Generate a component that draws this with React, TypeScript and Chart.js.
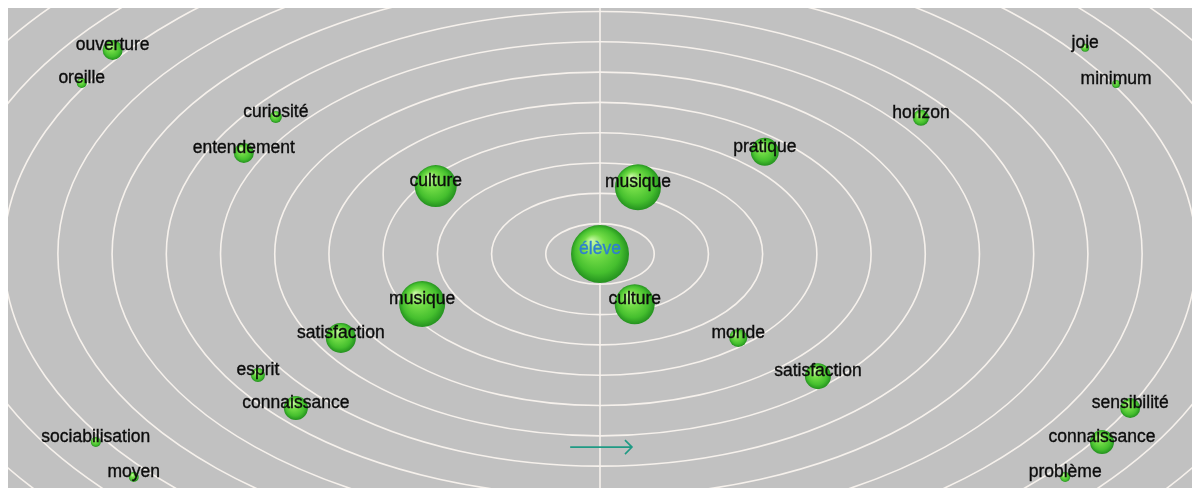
import React, { useEffect, useRef } from "react";
import { Chart, registerables } from "chart.js";

Chart.register(...registerables);

// Words (category labels) of the similarity map
const WORDS = [
  "élève", "musique", "culture", "culture", "musique", "satisfaction",
  "pratique", "monde", "satisfaction", "horizon", "entendement", "curiosité",
  "ouverture", "oreille", "esprit", "connaissance", "sociabilisation", "moyen",
  "joie", "minimum", "sensibilité", "connaissance", "problème",
];
// Horizontal position (ring units)
const X_VALUES = [
  0, 0.7, 0.64, -3.03, -3.28, -4.78,
  3.04, 2.55, 4.02, 5.92, -6.57, -5.98,
  -8.99, -9.56, -6.31, -5.61, -9.3, -8.6,
  8.95, 9.52, 9.78, 9.26, 8.58,
];
// Vertical position (ring units)
const Y_VALUES = [
  0, 2.2, -1.66, 2.24, -1.65, -2.77,
  3.37, -2.77, -4.03, 4.49, 3.33, 4.52,
  6.73, 5.64, -3.99, -5.08, -6.2, -7.36,
  6.8, 5.61, -5.08, -6.2, -7.36,
];
// Bubble size (radius)
const SIZES = [
  29, 23, 20, 21, 23, 15,
  14, 9, 13, 8, 10, 6,
  10, 5, 7, 12, 5, 5,
  4, 4, 10, 12, 5,
];
// Concentric rings (levels)
const RING_LEVELS = [1, 2, 3, 4, 5, 6, 7, 8, 9, 10, 11, 12, 13, 14];
// Axis extents
const X_RANGE = [-10.92, 10.92];
const Y_RANGE = [-7.72, 8.18];
// Direction arrow (from, to) in ring units
const ARROW_X = [-0.55, 0.59];
const ARROW_Y = [-6.37, -6.37];

const ringsPlugin = {
  id: "rings",
  beforeDatasetsDraw(chart: any) {
    const { ctx, chartArea, scales } = chart;
    const xs = scales.x, ys = scales.y;
    ctx.save();
    ctx.fillStyle = "#c1c1c1";
    ctx.fillRect(chartArea.left, chartArea.top, chartArea.right - chartArea.left, chartArea.bottom - chartArea.top);
    ctx.beginPath();
    ctx.rect(chartArea.left, chartArea.top, chartArea.right - chartArea.left, chartArea.bottom - chartArea.top);
    ctx.clip();
    const cx = xs.getPixelForValue(0);
    const cy = ys.getPixelForValue(0);
    ctx.strokeStyle = "#f6f1ec";
    ctx.lineWidth = 1.6;
    RING_LEVELS.forEach((k) => {
      const rx = Math.abs(xs.getPixelForValue(k) - cx);
      const ry = Math.abs(ys.getPixelForValue(k) - cy);
      ctx.beginPath();
      ctx.ellipse(cx, cy, rx, ry, 0, 0, Math.PI * 2);
      ctx.stroke();
    });
    ctx.beginPath();
    ctx.moveTo(cx, chartArea.top);
    ctx.lineTo(cx, chartArea.bottom);
    ctx.stroke();
    // arrow
    const x1 = xs.getPixelForValue(ARROW_X[0]);
    const x2 = xs.getPixelForValue(ARROW_X[1]);
    const y1 = ys.getPixelForValue(ARROW_Y[0]);
    const y2 = ys.getPixelForValue(ARROW_Y[1]);
    ctx.strokeStyle = "#1f9a84";
    ctx.lineWidth = 1.6;
    ctx.beginPath();
    ctx.moveTo(x1, y1);
    ctx.lineTo(x2, y2);
    ctx.moveTo(x2 - 7, y2 - 7);
    ctx.lineTo(x2, y2);
    ctx.lineTo(x2 - 7, y2 + 7);
    ctx.stroke();
    ctx.restore();
  },
};

const labelsPlugin = {
  id: "wordLabels",
  afterDatasetsDraw(chart: any) {
    const { ctx } = chart;
    const meta = chart.getDatasetMeta(0);
    ctx.save();
    ctx.font = '17.5px "Liberation Sans", Arial, sans-serif';
    ctx.textAlign = "center";
    ctx.textBaseline = "middle";
    ctx.lineWidth = 0.35;
    meta.data.forEach((el: any, i: number) => {
      const col = i === 0 ? "#2f7fd0" : "#0c0c0c";
      ctx.fillStyle = col;
      ctx.strokeStyle = col;
      ctx.fillText(WORDS[i], el.x, el.y - 5);
      ctx.strokeText(WORDS[i], el.x, el.y - 5);
    });
    ctx.restore();
  },
};

export default function App() {
  const ref = useRef<HTMLCanvasElement>(null);
  useEffect(() => {
    if (!ref.current) return;
    const data = WORDS.map((w, i) => ({ x: X_VALUES[i], y: Y_VALUES[i], r: SIZES[i] }));
    const chart = new Chart(ref.current, {
      type: "bubble",
      data: {
        datasets: [
          {
            label: "mots",
            data,
            borderWidth: 0,
            clip: false as any,
            backgroundColor: (c: any) => {
              const chart = c.chart;
              const raw = c.raw;
              const xs = chart.scales?.x;
              const ys = chart.scales?.y;
              if (!raw || !xs || !ys) return "#4cc532";
              const px = xs.getPixelForValue(raw.x);
              const py = ys.getPixelForValue(raw.y);
              const r = raw.r;
              if (!Number.isFinite(px) || !Number.isFinite(py) || !Number.isFinite(r)) return "#4cc532";
              const g = chart.ctx.createRadialGradient(px - r * 0.3, py - r * 0.45, r * 0.05, px, py, r * 1.02);
              g.addColorStop(0, "#c4f7a0");
              g.addColorStop(0.35, "#72dc46");
              g.addColorStop(0.75, "#45bf2e");
              g.addColorStop(1, "#228f1e");
              return g;
            },
          },
        ],
      },
      options: {
        responsive: false,
        devicePixelRatio: 1,
        animation: false,
        layout: { padding: 0, autoPadding: false },
        scales: {
          x: { type: "linear", min: X_RANGE[0], max: X_RANGE[1], display: false },
          y: { type: "linear", min: Y_RANGE[0], max: Y_RANGE[1], display: false },
        },
        plugins: { legend: { display: false }, tooltip: { enabled: false } },
      },
      plugins: [ringsPlugin, labelsPlugin],
    });
    return () => chart.destroy();
  }, []);
  return (
    <div style={{ marginTop: -2 }}>
      <canvas ref={ref} width={1184} height={482} style={{ display: "block" }} />
    </div>
  );
}
